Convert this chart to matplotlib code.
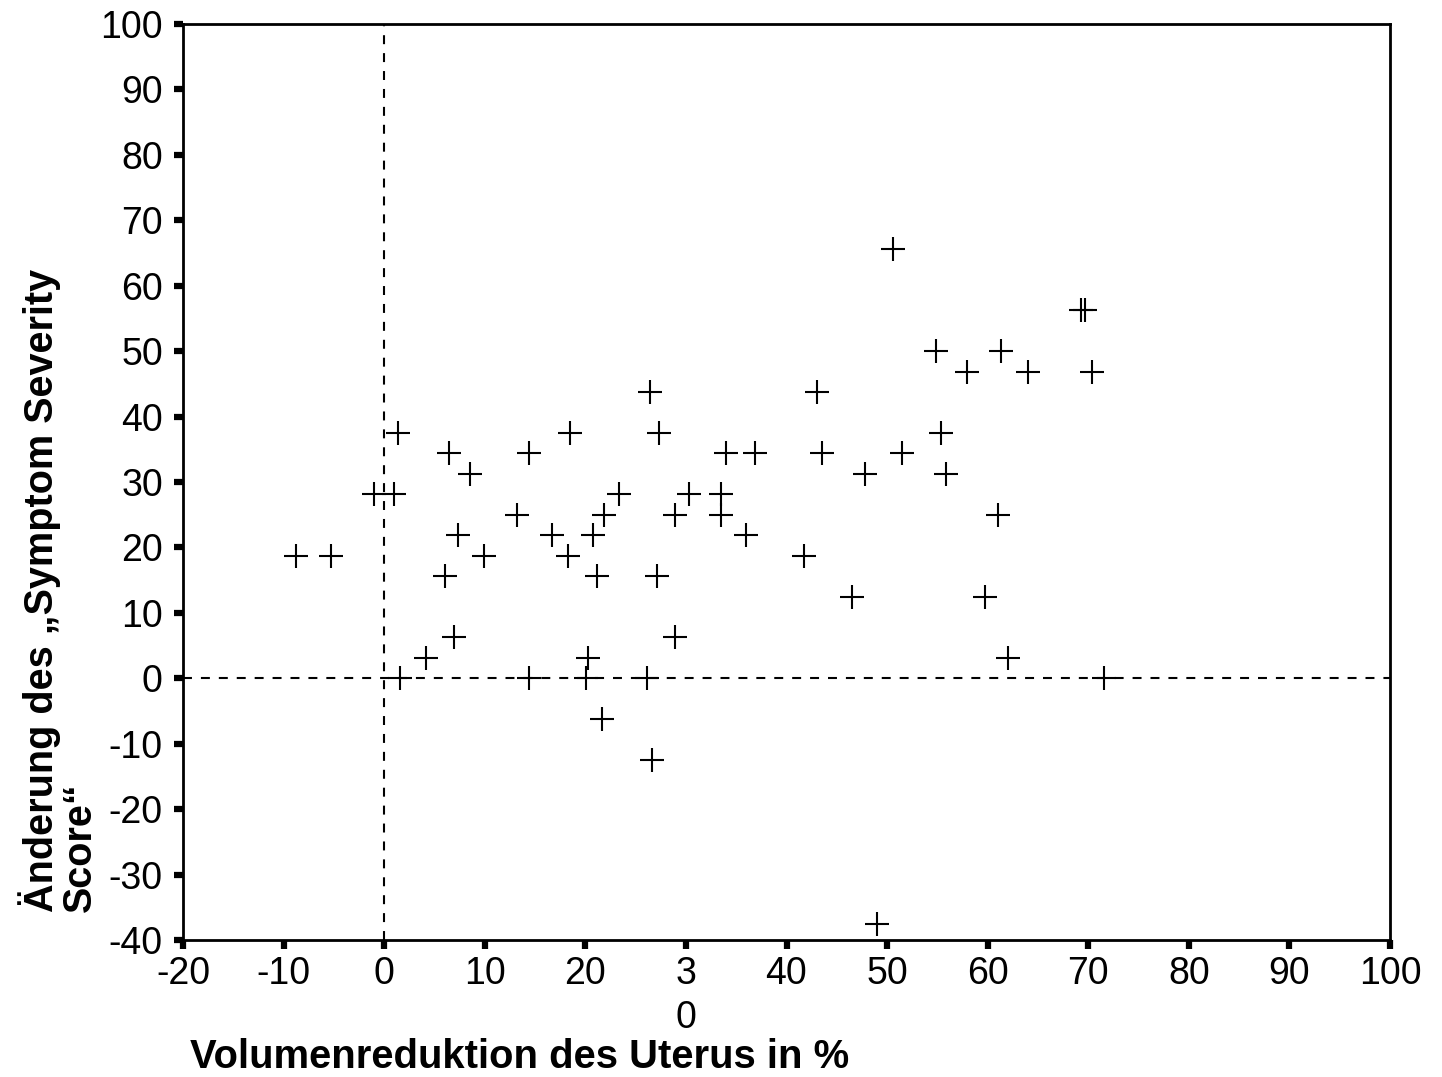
import matplotlib
matplotlib.use("Agg")
import matplotlib.pyplot as plt

# Volumenreduktion (%) vs. Aenderung des Symptom Severity Score
volume_reduction = [
    -8.8, -5.3, -1.0, 1.0, 1.4, 1.6, 4.2, 6.0, 6.4, 6.9,
    7.3, 8.5, 9.9, 13.2, 14.4, 14.4, 16.7, 18.5, 18.3, 20.1,
    20.3, 20.8, 21.9, 21.2, 21.7, 23.3, 26.4, 26.1, 27.3, 27.1,
    26.6, 28.9, 28.9, 30.3, 33.5, 33.5, 34.0, 36.0, 36.9, 41.7,
    43.0, 43.5, 46.5, 47.8, 49.0, 50.6, 51.5, 54.9, 55.4, 55.9,
    57.9, 59.7, 61.0, 61.3, 62.0, 64.0, 69.3, 69.7, 70.4, 71.6,
]
score_change = [
    18.75, 18.75, 28.125, 28.125, 37.5, 0, 3.125, 15.625, 34.375, 6.25,
    21.875, 31.25, 18.75, 25, 34.375, 0, 21.875, 37.5, 18.75, 0,
    3.125, 21.875, 25, 15.625, -6.25, 28.125, 43.75, 0, 37.5, 15.625,
    -12.5, 25, 6.25, 28.125, 28.125, 25, 34.375, 21.875, 34.375, 18.75,
    43.75, 34.375, 12.5, 31.25, -37.5, 65.625, 34.375, 50, 37.5, 31.25,
    46.875, 12.5, 25, 50, 3.125, 46.875, 56.25, 56.25, 46.875, 0,
]

x_ticks = list(range(-20, 101, 10))
x_tick_labels = ["-20", "-10", "0", "10", "20", "3\n0", "40", "50", "60", "70", "80", "90", "100"]
y_ticks = list(range(-40, 101, 10))

plt.rcParams["font.family"] = ["Liberation Sans", "DejaVu Sans"]
plt.rcParams["axes.unicode_minus"] = False

fig = plt.figure(figsize=(14.42, 10.77), dpi=100)
ax = fig.add_axes([183 / 1442, 1 - 940 / 1077, (1390 - 183) / 1442, (940 - 24) / 1077])

ax.axvline(0, color="black", lw=1.5, linestyle=(0, (4.3, 4.3)), zorder=1)
ax.axhline(0, color="black", lw=1.5, linestyle=(0, (4.3, 4.3)), zorder=1)
ax.scatter(volume_reduction, score_change, marker="+", s=300, color="black",
           linewidths=1.5, zorder=3)

ax.set_xlim(-20, 100)
ax.set_ylim(-40, 100)
ax.set_xticks(x_ticks)
ax.set_xticklabels(x_tick_labels)
ax.set_yticks(y_ticks)

for side in ["top", "right", "left", "bottom"]:
    ax.spines[side].set_linewidth(2.0)
ax.tick_params(axis="both", direction="out", length=6.5, width=4.5, labelsize=27)
ax.tick_params(axis="x", pad=5)
ax.tick_params(axis="y", pad=8)
for lbl in ax.get_xticklabels():
    lbl.set_linespacing(1.3)

fig.text(190 / 1442, 1 - 1068 / 1077, "Volumenreduktion des Uterus in %",
         fontsize=28.8, fontweight="bold", ha="left", va="baseline")
fig.text(18 / 1442, 1 - 912 / 1077, "Änderung des \u201eSymptom Severity\nScore\u201c",
         fontsize=28.5, fontweight="bold", rotation=90, ha="left", va="bottom",
         multialignment="left", linespacing=1.0)

fig.savefig("out.png", dpi=100)
